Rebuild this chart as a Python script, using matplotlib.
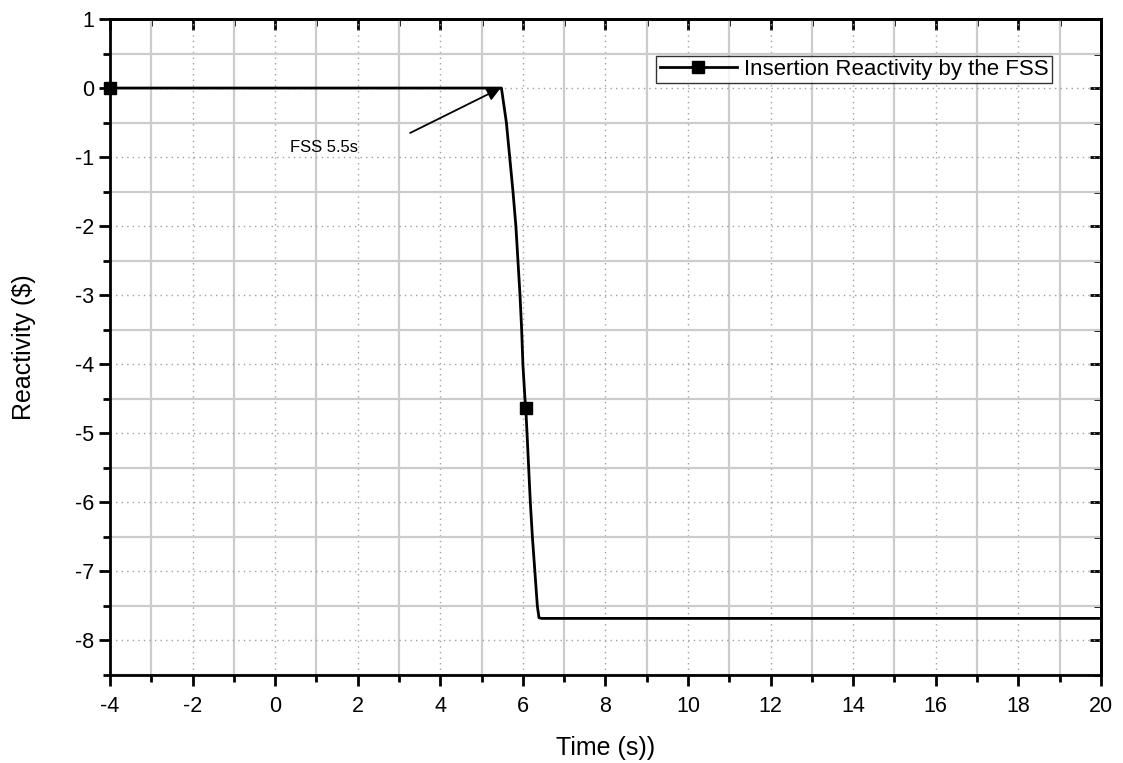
import matplotlib
matplotlib.use("Agg")
import matplotlib.pyplot as plt
from matplotlib.ticker import MultipleLocator

plt.rcParams['font.family'] = ['Liberation Sans', 'DejaVu Sans']
plt.rcParams['axes.unicode_minus'] = False

# Data
time_s = [-4.0, 5.48, 5.60, 5.68, 5.76, 5.83, 5.88, 5.93, 5.97, 6.00, 6.05, 6.07,
          6.10, 6.14, 6.18, 6.23, 6.29, 6.35, 6.39, 6.45, 20.0]
reactivity = [0.0, 0.0, -0.5, -1.0, -1.5, -2.0, -2.5, -3.0, -3.5, -4.0, -4.5, -4.64,
              -5.0, -5.5, -6.0, -6.5, -7.0, -7.5, -7.67, -7.68, -7.68]
marker_idx = [0, 11]

x_ticks = list(range(-4, 21, 2))
y_ticks = list(range(-8, 2, 1))

fig = plt.figure(figsize=(11.23, 7.63), dpi=100)
ax = fig.add_axes([0.098, 0.1153, 0.8823, 0.8598])

ax.plot(time_s, reactivity, color='black', lw=2, marker='s', markersize=9,
        markevery=marker_idx, label='Insertion Reactivity by the FSS',
        clip_on=False, zorder=5)

ax.set_xlim(-4, 20)
ax.set_ylim(-8.5, 1)
ax.set_xticks(x_ticks)
ax.set_yticks(y_ticks)
ax.xaxis.set_minor_locator(MultipleLocator(1))
ax.yaxis.set_minor_locator(MultipleLocator(0.5))

ax.grid(which='major', color='#a0a0a0', linestyle=(0, (1, 3)), lw=1)
ax.grid(which='minor', color='#cccccc', linestyle='-', lw=1.6)
ax.set_axisbelow(True)

for s in ax.spines.values():
    s.set_linewidth(2)

ax.tick_params(which='both', direction='out', width=2, labelsize=15.5, top=False, right=False)
ax.tick_params(which='major', length=8)
ax.tick_params(which='minor', length=5)
ax.tick_params(axis='x', which='major', pad=7)

# inward ticks on top and right
axt = ax.secondary_xaxis('top')
axt.set_xticks(x_ticks)
axt.xaxis.set_minor_locator(MultipleLocator(1))
axt.tick_params(which='both', direction='in', width=2, labeltop=False)
axt.tick_params(which='major', length=8)
axt.tick_params(which='minor', length=5)
axt.spines['top'].set_linewidth(2)
axr = ax.secondary_yaxis('right')
axr.set_yticks(y_ticks)
axr.yaxis.set_minor_locator(MultipleLocator(0.5))
axr.tick_params(which='both', direction='in', width=2, labelright=False)
axr.tick_params(which='major', length=8)
axr.tick_params(which='minor', length=5)
axr.spines['right'].set_linewidth(2)

ax.set_xlabel('Time (s))', fontsize=18, labelpad=14)
ax.set_ylabel('Reactivity ($)', fontsize=18, labelpad=28)

ax.annotate('', xy=(5.46, 0.0), xytext=(3.27, -0.65),
            arrowprops=dict(arrowstyle='-|>', color='black', lw=1.3,
                            shrinkA=0, shrinkB=0, mutation_scale=20))
ax.text(0.35, -0.86, 'FSS 5.5s', fontsize=12, va='center', ha='left')

leg = ax.legend(loc='upper right', bbox_to_anchor=(0.9506, 0.9440), fontsize=16,
                frameon=True, fancybox=False, edgecolor='black', handlelength=3.5,
                borderpad=0.15, handletextpad=0.3, borderaxespad=0)
leg.get_frame().set_linewidth(1)

fig.savefig('out.png', dpi=100)
